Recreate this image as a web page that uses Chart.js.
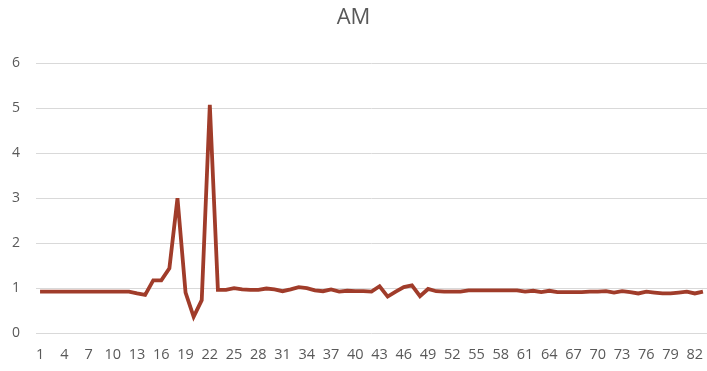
<!DOCTYPE html>
<html lang="en">

<head>
    <meta charset="UTF-8">
    <title>AM</title>
    <script src="https://cdn.jsdelivr.net/npm/chart.js"></script>
    <style>
        html, body { margin: 0; padding: 0; background: #fff; }
        .chart-box { width: 707px; height: 371px; }
    </style>
</head>

<body>
    <div class="chart-box">
        <canvas id="amChart"></canvas>
    </div>

    <script>
        // Chart data
        const chartTitle = 'AM';
        const samples = Array.from({ length: 83 }, (_, i) => String(i + 1));
        const amValues = [
            0.92, 0.92, 0.92, 0.92, 0.92, 0.92, 0.92, 0.92, 0.92, 0.92,
            0.92, 0.92, 0.88, 0.85, 1.17, 1.17, 1.44, 3.0, 0.9, 0.36,
            0.73, 5.08, 0.96, 0.96, 1.0, 0.97, 0.96, 0.96, 0.99, 0.97,
            0.93, 0.97, 1.02, 1.0, 0.95, 0.93, 0.97, 0.92, 0.94, 0.93,
            0.93, 0.92, 1.04, 0.81, 0.92, 1.02, 1.06, 0.82, 0.98, 0.93,
            0.92, 0.92, 0.92, 0.95, 0.95, 0.95, 0.95, 0.95, 0.95, 0.95,
            0.92, 0.94, 0.91, 0.94, 0.91, 0.91, 0.91, 0.91, 0.92, 0.92,
            0.93, 0.9, 0.93, 0.91, 0.88, 0.92, 0.9, 0.88, 0.88, 0.9,
            0.92, 0.88, 0.92
        ];
        const yTicks = [0, 1, 2, 3, 4, 5, 6];

        const textColor = '#595959';
        const fontFamily = '"Open Sans", sans-serif';

        const ctx = document.getElementById('amChart').getContext('2d');
        new Chart(ctx, {
            type: 'line',
            data: {
                labels: samples,
                datasets: [{
                    label: chartTitle,
                    data: amValues,
                    borderColor: '#a03c2a',
                    borderWidth: 3.8,
                    pointRadius: 0,
                    tension: 0,
                    fill: false
                }]
            },
            options: {
                responsive: true,
                maintainAspectRatio: false,
                animation: false,
                layout: { padding: 0 },
                plugins: {
                    legend: { display: false },
                    tooltip: { enabled: false },
                    title: {
                        display: true,
                        text: chartTitle,
                        color: textColor,
                        font: { family: fontFamily, size: 22, weight: 'normal' },
                        padding: { top: 5, bottom: 32 }
                    }
                },
                scales: {
                    x: {
                        offset: true,
                        afterFit: scale => {
                            scale.height = 38;
                            // tick padding would otherwise eat into the right edge
                            scale.paddingLeft = 0;
                            scale.paddingRight = 0;
                        },
                        grid: { display: false, drawTicks: false },
                        border: { display: false },
                        ticks: {
                            autoSkip: false,
                            maxRotation: 0,
                            padding: 13,
                            color: textColor,
                            font: { family: fontFamily, size: 14.5 },
                            callback: (val, i) => (i % 3 === 0 ? samples[i] : '')
                        }
                    },
                    y: {
                        min: yTicks[0],
                        max: yTicks[yTicks.length - 1],
                        afterFit: scale => { scale.width = 36; },
                        afterBuildTicks: scale => { scale.ticks = yTicks.map(v => ({ value: v })); },
                        grid: { color: '#d9d9d9', drawTicks: false },
                        border: { display: false },
                        ticks: {
                            padding: 16,
                            color: textColor,
                            font: { family: fontFamily, size: 14 }
                        }
                    }
                }
            }
        });
    </script>
</body>

</html>
